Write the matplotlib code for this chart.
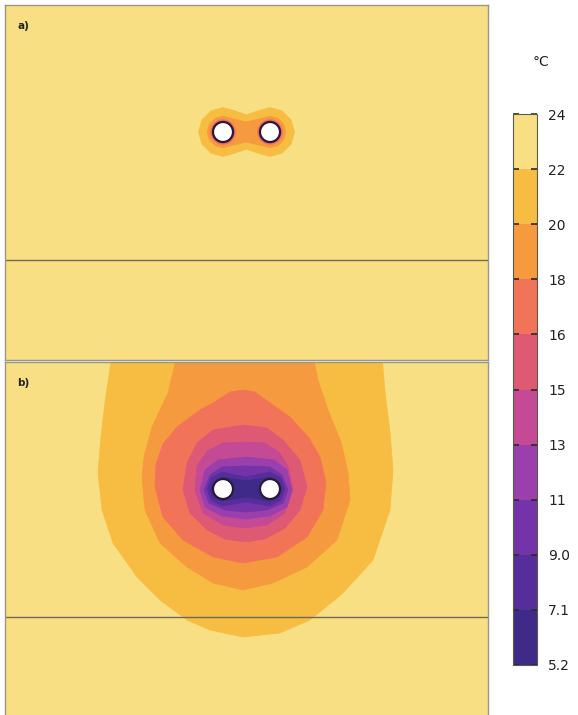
'''
Temperature field around a pair of buried pipes, two cases (a, b),
drawn as filled isotherm bands with a shared discrete colour bar
'''
import matplotlib
matplotlib.use('Agg')
import matplotlib.pyplot as plt
from matplotlib.colors import ListedColormap, BoundaryNorm
from matplotlib.cm import ScalarMappable
from matplotlib.patches import Polygon, Circle

# isotherm levels [degC] and colour bar labels
levels = [5.2, 7.08, 8.96, 10.84, 12.72, 14.6, 16.48, 18.36, 20.24, 22.12, 24.0]
tickLabels = ['5.2', '7.1', '9.0', '11', '13', '15', '16', '18', '20', '22', '24']
bandColors = ['#3f2a88', '#552e9c', '#7433a8', '#9a3fab', '#c44a96', '#de5a74',
              '#f27458', '#f69a3f', '#f6bd42', '#f8df84']

# geometry [m]: domain width, depth of the panel, depth of the soil layer line
domainWidth = 4.83
domainDepth = 3.55
layerDepth = 2.55
pipeX = [2.18, 2.65]
pipeDepth = [1.27, 1.27]
pipeRadius = 0.10

# case a) isotherm outlines (x, depth)
aIso22 = [(2.18, 1.025), (2.30, 1.058), (2.415, 1.10), (2.53, 1.058), (2.65, 1.025),
          (2.77, 1.058), (2.86, 1.148), (2.895, 1.27), (2.86, 1.392), (2.77, 1.482),
          (2.65, 1.515), (2.53, 1.482), (2.415, 1.44), (2.30, 1.482), (2.18, 1.515),
          (2.06, 1.482), (1.97, 1.392), (1.935, 1.27), (1.97, 1.148), (2.06, 1.058)]
aIso20 = [(2.18, 1.112), (2.26, 1.133), (2.415, 1.17), (2.57, 1.133), (2.65, 1.112),
          (2.73, 1.133), (2.787, 1.191), (2.808, 1.27), (2.787, 1.349), (2.73, 1.407),
          (2.65, 1.428), (2.57, 1.407), (2.415, 1.37), (2.26, 1.407), (2.18, 1.428),
          (2.10, 1.407), (2.043, 1.349), (2.022, 1.27), (2.043, 1.191), (2.10, 1.133)]
# thin rings hugging each pipe in case a): (level, ring radius)
aRingLevels = [18.36, 16.48]
aRingRadii = [0.128, 0.116]

# case b) isotherm outlines (x, depth)
bIso22 = [(1.07, -0.07), (1.00, 0.40), (0.96, 0.75), (0.93, 1.11), (0.97, 1.48), (1.08, 1.81),
          (1.32, 2.15), (1.55, 2.38), (1.82, 2.58), (2.05, 2.68), (2.38, 2.75), (2.75, 2.71),
          (3.05, 2.58), (3.38, 2.31), (3.68, 1.98), (3.85, 1.48), (3.88, 1.08), (3.85, 0.70),
          (3.80, 0.30), (3.77, -0.07)]
bIso20 = [(1.72, -0.07), (1.63, 0.31), (1.47, 0.65), (1.39, 0.95), (1.37, 1.15), (1.40, 1.48),
          (1.55, 1.81), (1.82, 2.05), (2.08, 2.21), (2.38, 2.28), (2.68, 2.21), (3.02, 2.05),
          (3.32, 1.78), (3.45, 1.38), (3.43, 1.10), (3.36, 0.80), (3.23, 0.48), (3.13, 0.18),
          (3.08, -0.07)]
bIso18 = [(2.38, 0.28), (2.25, 0.30), (2.08, 0.41), (1.95, 0.48), (1.72, 0.65), (1.58, 0.82),
          (1.51, 1.02), (1.50, 1.25), (1.58, 1.55), (1.78, 1.78), (2.08, 1.95), (2.38, 2.01),
          (2.72, 1.95), (3.02, 1.75), (3.18, 1.48), (3.21, 1.20), (3.15, 0.95), (3.04, 0.76),
          (2.85, 0.55), (2.65, 0.41), (2.50, 0.30)]
bIso16 = [(2.38, 0.63), (2.08, 0.68), (1.92, 0.81), (1.82, 1.01), (1.78, 1.28), (1.85, 1.51),
          (2.02, 1.68), (2.20, 1.77), (2.40, 1.80), (2.60, 1.77), (2.80, 1.66), (2.95, 1.48),
          (3.02, 1.25), (2.95, 0.98), (2.78, 0.78), (2.62, 0.66)]
bIso15 = [(2.40, 0.80), (2.18, 0.81), (2.02, 0.89), (1.92, 1.04), (1.90, 1.28), (1.98, 1.51),
          (2.18, 1.63), (2.40, 1.66), (2.62, 1.63), (2.80, 1.51), (2.88, 1.28), (2.83, 1.04),
          (2.74, 0.90), (2.60, 0.81)]
bIso13 = [(2.41, 0.95), (2.13, 0.98), (2.00, 1.08), (1.95, 1.28), (2.00, 1.45), (2.17, 1.54),
          (2.41, 1.57), (2.65, 1.54), (2.82, 1.45), (2.87, 1.28), (2.82, 1.08), (2.69, 0.98)]
bIso11 = [(2.41, 1.04), (2.17, 1.05), (2.05, 1.13), (1.99, 1.28), (2.04, 1.41), (2.20, 1.48),
          (2.41, 1.50), (2.62, 1.48), (2.78, 1.41), (2.83, 1.28), (2.77, 1.13), (2.65, 1.05)]
bIso9 = [(2.17, 1.10), (2.06, 1.16), (2.02, 1.27), (2.06, 1.38), (2.17, 1.44), (2.41, 1.40),
         (2.65, 1.44), (2.76, 1.38), (2.80, 1.27), (2.76, 1.16), (2.65, 1.10), (2.41, 1.15)]
bIso7 = [(2.17, 1.15), (2.08, 1.20), (2.05, 1.27), (2.08, 1.35), (2.17, 1.39), (2.41, 1.35),
         (2.65, 1.39), (2.74, 1.35), (2.77, 1.27), (2.74, 1.20), (2.65, 1.15), (2.41, 1.19)]

cmap = ListedColormap(bandColors)
norm = BoundaryNorm(levels, cmap.N)


def bandColor(level):
    '''
    Colour of the band just below the given isotherm level
    '''
    return cmap(norm(level - 0.01))


def drawPanel(ax, isotherms, label, rings=None):
    '''
    Fills the isotherms (outermost first), then the pipes and the layer line
    '''
    ax.set_facecolor(bandColor(levels[-1]))
    for level, outline in isotherms:
        ax.add_patch(Polygon(outline, closed=True, facecolor=bandColor(level),
                             edgecolor=bandColor(level), linewidth=0.5,
                             joinstyle='round'))

    if rings is not None:
        for level, radius in rings:
            for x, d in zip(pipeX, pipeDepth):
                ax.add_patch(Circle((x, d), radius, facecolor=bandColor(level),
                                    edgecolor='none'))

    for x, d in zip(pipeX, pipeDepth):
        ax.add_patch(Circle((x, d), pipeRadius, facecolor='white',
                            edgecolor='#2a1a3a', linewidth=1.6))

    ax.axhline(layerDepth, color='#6f6a50', linewidth=1.0)
    ax.set_xlim(0, domainWidth)
    ax.set_ylim(domainDepth, 0)
    ax.set_xticks([])
    ax.set_yticks([])
    for spine in ax.spines.values():
        spine.set_color('#9a9880')
        spine.set_linewidth(1.0)
    ax.text(0.026, 0.94, label, transform=ax.transAxes, fontsize=7.5,
            fontweight='bold', color='#222222', va='center', ha='left')


def main():
    W, H = 578, 715
    fig = plt.figure(figsize=(W / 100, H / 100), dpi=100)

    axA = fig.add_axes([5 / W, 355 / H, 483 / W, 355 / H])
    axB = fig.add_axes([5 / W, -2 / H, 483 / W, 355 / H])

    drawPanel(axA, [(22.12, aIso22), (20.24, aIso20)], 'a)',
              rings=list(zip(aRingLevels, aRingRadii)))
    drawPanel(axB, [(22.12, bIso22), (20.24, bIso20), (18.36, bIso18), (16.48, bIso16),
                    (14.6, bIso15), (12.72, bIso13), (10.84, bIso11), (8.96, bIso9),
                    (7.08, bIso7)], 'b)')

    # colour bar
    cax = fig.add_axes([513 / W, 50 / H, 24 / W, 551 / H])
    cb = fig.colorbar(ScalarMappable(norm=norm, cmap=cmap), cax=cax, ticks=levels)
    cb.set_ticklabels(tickLabels)
    cb.outline.set_edgecolor('#5a5a4a')
    cb.outline.set_linewidth(0.8)
    cax.tick_params(direction='in', length=4, width=1.2, color='#2a2a2a',
                    left=True, right=True, labelsize=10, pad=8, labelcolor='#222222')
    fig.text(541 / W, 1 - 62 / H, '°C', ha='center', va='center', fontsize=10,
             color='#222222')

    fig.savefig('out.png', dpi=100)


if __name__ == '__main__':
    main()
